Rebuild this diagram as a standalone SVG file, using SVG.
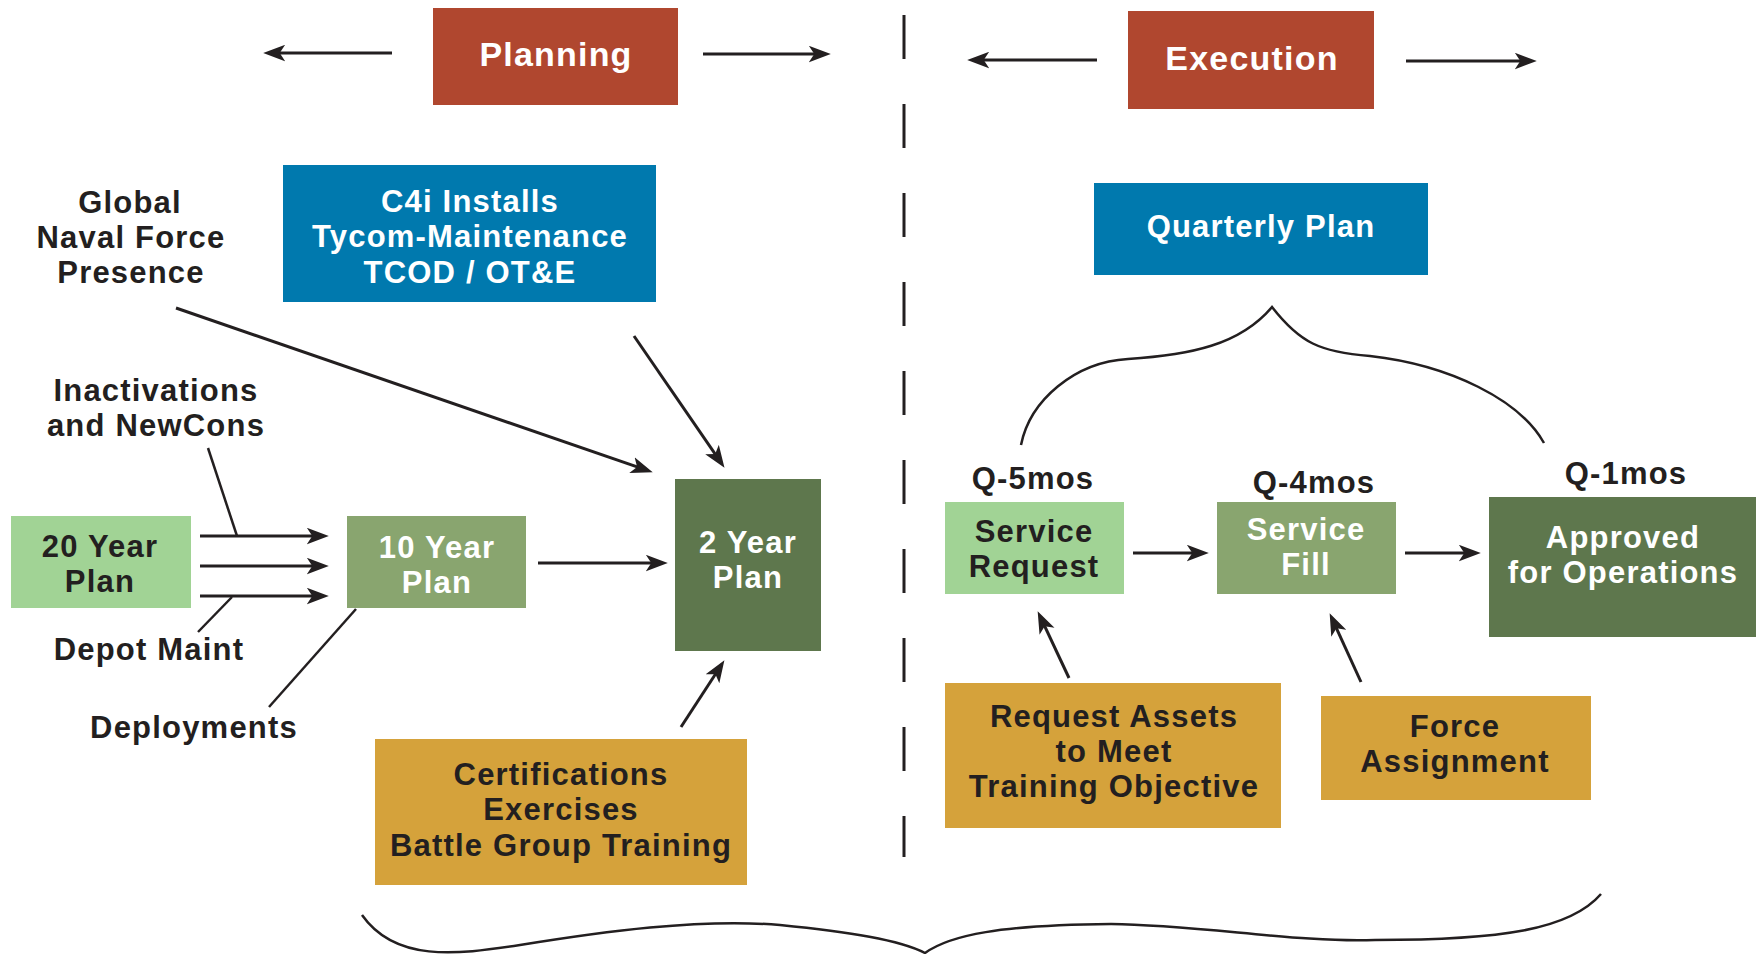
<svg xmlns="http://www.w3.org/2000/svg" width="1763" height="954" viewBox="0 0 1763 954">
<style>
text{font-family:"Liberation Sans",Arial,sans-serif;font-weight:bold;font-size:31px;letter-spacing:1.2px;text-anchor:middle}
.w{fill:#ffffff}.d{fill:#231F20}
.t{font-size:34px}
.red{fill:#B0472F}.blue{fill:#0079AE}.lg{fill:#A1D395}.mg{fill:#89A56F}.dg{fill:#5E774D}.gold{fill:#D5A23B}
.ar{stroke:#231F20;stroke-width:3;fill:none;marker-end:url(#ah)}
.ln{stroke:#231F20;stroke-width:2.5;fill:none}
.br{stroke:#231F20;stroke-width:2.5;fill:none}
</style>
<defs>
<marker id="ah" markerUnits="userSpaceOnUse" markerWidth="22" markerHeight="17" refX="12" refY="7.5" orient="auto" viewBox="0 0 20 15">
<path d="M0,0 L20,7.5 L0,15 L5,7.5 Z" fill="#231F20"/>
</marker>
</defs>
<rect width="1763" height="954" fill="#ffffff"/>

<g id="divider">
<line x1="904" y1="15" x2="904" y2="857" stroke="#231F20" stroke-width="3" stroke-dasharray="44 45"/>
</g>

<g id="connectors">
<line class="ar" x1="392" y1="53" x2="272" y2="53"/>
<line class="ar" x1="703" y1="54" x2="822" y2="54"/>
<line class="ar" x1="1097" y1="60" x2="976" y2="60"/>
<line class="ar" x1="1406" y1="61" x2="1528" y2="61"/>
<line class="ar" x1="176" y1="308" x2="644.4" y2="469.4"/>
<line class="ar" x1="634" y1="336" x2="719.5" y2="460.4"/>
<line class="ar" x1="200" y1="536" x2="320" y2="536"/>
<line class="ar" x1="200" y1="566" x2="320" y2="566"/>
<line class="ar" x1="200" y1="596" x2="320" y2="596"/>
<line class="ar" x1="538" y1="563" x2="659" y2="563"/>
<line class="ar" x1="681" y1="727" x2="719.6" y2="667.7"/>
<line class="ar" x1="1133" y1="553" x2="1200" y2="553"/>
<line class="ar" x1="1405" y1="553" x2="1472" y2="553"/>
<line class="ar" x1="1069" y1="678" x2="1041.4" y2="619.2"/>
<line class="ar" x1="1361" y1="682" x2="1333.3" y2="621.3"/>
<line class="ln" x1="208" y1="448" x2="237" y2="536"/>
<line class="ln" x1="232" y1="597" x2="198" y2="632"/>
<line class="ln" x1="356" y1="609" x2="269" y2="707"/>
<path class="br" d="M1021,445 C1030,400 1075,362 1128,359 C1190,355 1240,345 1272,307 C1300,343 1320,352 1370,356 C1450,365 1520,400 1544,443"/>
<path class="br" d="M362,915 C395,962 455,955 520,945 C600,932 700,918 780,925 C850,932 900,940 925,953 C950,935 1000,925 1111,924 C1200,925 1300,943 1375,940 C1500,940 1570,930 1601,894"/>
</g>

<g id="planning"><rect class="red" x="433" y="8" width="245" height="97"/><text class="w t" x="556" y="66">Planning</text></g>
<g id="execution"><rect class="red" x="1128" y="11" width="246" height="98"/><text class="w t" x="1252" y="70">Execution</text></g>
<g id="c4i"><rect class="blue" x="283" y="165" width="373" height="137"/>
<text class="w" x="470" y="212">C4i Installs</text><text class="w" x="470" y="247">Tycom-Maintenance</text><text class="w" x="470" y="283">TCOD / OT&amp;E</text></g>
<g id="global"><text class="d" x="130" y="213">Global</text><text class="d" x="131" y="248">Naval Force</text><text class="d" x="131" y="283">Presence</text></g>
<g id="inactivations"><text class="d" x="156" y="401">Inactivations</text><text class="d" x="156" y="436">and NewCons</text></g>
<g id="plan20"><rect class="lg" x="11" y="516" width="180" height="92"/><text class="d" x="100" y="557">20 Year</text><text class="d" x="100" y="592">Plan</text></g>
<g id="plan10"><rect class="mg" x="347" y="516" width="179" height="92"/><text class="w" x="437" y="558">10 Year</text><text class="w" x="437" y="593">Plan</text></g>
<g id="plan2"><rect class="dg" x="675" y="479" width="146" height="172"/><text class="w" x="748" y="553">2 Year</text><text class="w" x="748" y="588">Plan</text></g>
<g id="depot"><text class="d" x="149" y="660">Depot Maint</text></g>
<g id="deployments"><text class="d" x="194" y="738">Deployments</text></g>
<g id="certifications"><rect class="gold" x="375" y="739" width="372" height="146"/>
<text class="d" x="561" y="785">Certifications</text><text class="d" x="561" y="820">Exercises</text><text class="d" x="561" y="856">Battle Group Training</text></g>
<g id="quarterly"><rect class="blue" x="1094" y="183" width="334" height="92"/><text class="w" x="1261" y="237">Quarterly Plan</text></g>
<g id="q5"><text class="d" x="1033" y="489">Q-5mos</text></g>
<g id="q4"><text class="d" x="1314" y="493">Q-4mos</text></g>
<g id="q1"><text class="d" x="1626" y="484">Q-1mos</text></g>
<g id="servicerequest"><rect class="lg" x="945" y="502" width="179" height="92"/><text class="d" x="1034" y="542">Service</text><text class="d" x="1034" y="577">Request</text></g>
<g id="servicefill"><rect class="mg" x="1217" y="502" width="179" height="92"/><text class="w" x="1306" y="540">Service</text><text class="w" x="1306" y="575">Fill</text></g>
<g id="approved"><rect class="dg" x="1489" y="497" width="267" height="140"/><text class="w" x="1623" y="548">Approved</text><text class="w" x="1623" y="583">for Operations</text></g>
<g id="requestassets"><rect class="gold" x="945" y="683" width="336" height="145"/>
<text class="d" x="1114" y="727">Request Assets</text><text class="d" x="1114" y="762">to Meet</text><text class="d" x="1114" y="797">Training Objective</text></g>
<g id="forceassignment"><rect class="gold" x="1321" y="696" width="270" height="104"/><text class="d" x="1455" y="737">Force</text><text class="d" x="1455" y="772">Assignment</text></g>
</svg>
